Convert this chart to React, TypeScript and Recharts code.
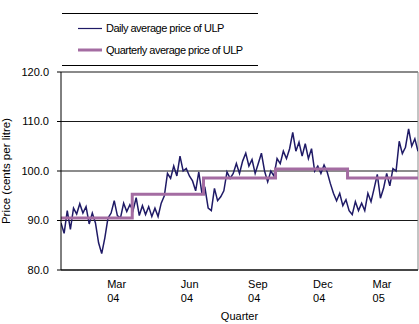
import { LineChart, Line, XAxis, YAxis, CartesianGrid, ReferenceLine, Label } from 'recharts';

// daily average price of ULP (cents per litre), one reading every 4 days from 1 Jan 2004
const DAY_STEP = 4;
const dailyPrice = [
  89.5, 87.4, 92.0, 88.2, 92.5, 91.3, 93.4, 91.5, 92.8, 89.3,
  91.5, 89.5, 85.5, 83.3, 86.5, 90.5, 91.5, 94.0, 91.0, 90.5,
  93.5, 91.8, 93.2, 92.0, 94.6, 91.0, 93.0, 91.2, 92.8, 90.8,
  92.5, 90.8, 93.5, 95.0, 99.5, 98.5, 101.0, 99.0, 103.0, 100.0,
  100.5, 99.0, 98.0, 96.0, 99.8, 95.5, 96.5, 92.5, 92.0, 96.5,
  94.0, 94.8, 96.0, 99.8, 98.5, 99.5, 101.5, 99.5, 102.0, 103.6,
  101.0, 102.3, 99.5, 101.5, 103.6, 100.0, 97.8, 100.0, 99.0, 102.5,
  101.5, 104.0, 102.5, 104.5, 107.8, 104.0, 105.8, 103.0, 105.5, 102.5,
  104.5, 100.0, 101.0, 99.5, 101.2, 99.8, 97.5, 95.5, 94.0, 95.5,
  93.0, 94.2, 92.0, 91.2, 93.8, 92.0, 93.5, 92.0, 95.5, 93.8,
  96.5, 99.3, 94.5, 96.5, 99.5, 97.0, 100.5, 100.0, 106.0, 103.5,
  104.8, 108.5, 105.0, 106.5, 104.0,
];

// quarter start days and quarterly averages
const quarterStartDays = [0, 91, 182, 274, 366, 456];
const quarterlyAvg = [90.5, 95.3, 98.6, 100.4, 98.6, 98.6];

// x axis labels
const tickDays = [59, 153, 239, 322, 398];
const tickMonths = ['Mar', 'Jun', 'Sep', 'Dec', 'Mar'];
const tickYears = ['04', '04', '04', '04', '05'];

const yTicks = [80, 90, 100, 110, 120];

const DAILY_COLOR = '#1f1a66';
const QUARTER_COLOR = '#a46ca2';
const FONT = '"Liberation Sans", Arial, sans-serif';

const dailyData = dailyPrice.map((price, i) => ({ day: i * DAY_STEP, price }));
const quarterData = quarterStartDays.map((day, i) => ({ day, avg: quarterlyAvg[i] }));

function QuarterTick({ x, y, payload }: any) {
  const i = tickDays.indexOf(payload.value);
  return (
    <text x={x} y={y} fontSize={11} fontFamily={FONT} fill="#000" textAnchor="start">
      <tspan x={x} y={y + 18}>{tickMonths[i]}</tspan>
      <tspan x={x} y={y + 32}>{tickYears[i]}</tspan>
    </text>
  );
}

function PriceLegend() {
  const textStyle = { fontSize: 11, fontFamily: FONT, letterSpacing: -0.5, fill: '#000' };
  return (
    <svg width={419} height={70} style={{ position: 'absolute', left: 0, top: 0 }}>
      <line x1={62} x2={258} y1={13.5} y2={13.5} stroke="#000" />
      <line x1={78} x2={102} y1={28.5} y2={28.5} stroke={DAILY_COLOR} strokeWidth={1.2} />
      <text x={106} y={32} {...textStyle}>Daily average price of ULP</text>
      <line x1={78} x2={102} y1={50} y2={50} stroke={QUARTER_COLOR} strokeWidth={3} />
      <text x={106} y={54} {...textStyle}>Quarterly average price of ULP</text>
      <line x1={62} x2={258} y1={65.5} y2={65.5} stroke="#000" />
    </svg>
  );
}

export default function App() {
  return (
    <div style={{ position: 'absolute', left: 0, top: 0, width: 419, height: 324, background: '#fff' }}>
      <LineChart width={419} height={324} margin={{ top: 72, right: 1, bottom: 0, left: 0 }}>
        <CartesianGrid vertical={false} stroke="#000" strokeOpacity={0.9} />
        <XAxis
          type="number"
          dataKey="day"
          domain={[0, 456]}
          ticks={tickDays}
          tick={<QuarterTick />}
          tickLine={false}
          tickSize={0}
          tickMargin={0}
          height={54}
          axisLine={{ stroke: '#000' }}
          allowDataOverflow
        >
          <Label value="Quarter" position="insideBottom" offset={4} style={{ fontSize: 11, fontFamily: FONT, fill: '#000' }} />
        </XAxis>
        <YAxis
          type="number"
          domain={[80, 120]}
          ticks={yTicks}
          width={61}
          tickSize={4}
          tickMargin={8}
          tickFormatter={(v: number) => v.toFixed(1)}
          tick={{ fontSize: 11, fontFamily: FONT, fill: '#000' }}
          tickLine={{ stroke: '#000' }}
          axisLine={{ stroke: '#000' }}
        >
          <Label
            value="Price (cents per litre)"
            angle={-90}
            position="insideLeft"
            offset={6}
            style={{ fontSize: 11.5, fontFamily: FONT, fill: '#000', textAnchor: 'middle' }}
          />
        </YAxis>
        <ReferenceLine y={120} stroke="#888" />
        <ReferenceLine x={456} stroke="#888" />
        <Line
          data={dailyData}
          dataKey="price"
          type="linear"
          stroke={DAILY_COLOR}
          strokeWidth={1.5}
          dot={false}
          isAnimationActive={false}
        />
        <Line
          data={quarterData}
          dataKey="avg"
          type="stepAfter"
          stroke={QUARTER_COLOR}
          strokeWidth={3}
          dot={false}
          isAnimationActive={false}
        />
      </LineChart>
      <PriceLegend />
    </div>
  );
}
